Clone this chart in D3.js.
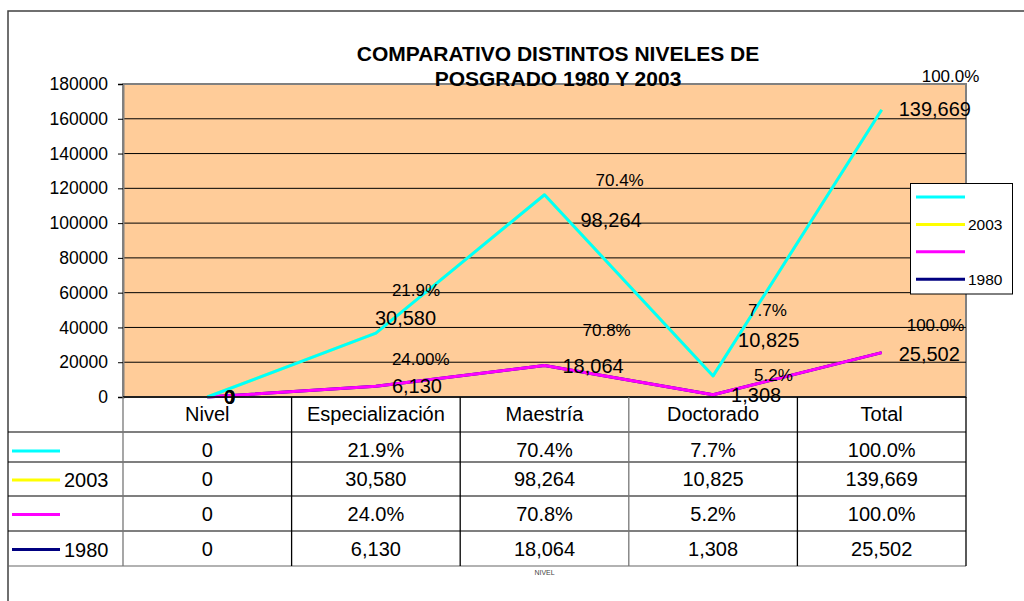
<!DOCTYPE html>
<html lang="es">
<head>
<meta charset="UTF-8">
<title>Comparativo posgrado 1980 y 2003</title>
<style>
  body { margin: 0; background: #fff; }
  text { font-family: Arial, "Liberation Sans", sans-serif; fill: #000; }
</style>
</head>
<body>
<svg id="chart" width="1024" height="601"></svg>
<script src="https://d3js.org/d3.v7.min.js"></script>
<script>

var niveles = ["Nivel", "Especialización", "Maestría", "Doctorado", "Total"];
var pct2003 = [0, 21.9, 70.4, 7.7, 100.0];
var alumnos2003 = [0, 30580, 98264, 10825, 139669];
var pct1980 = [0, 24.0, 70.8, 5.2, 100.0];
var alumnos1980 = [0, 6130, 18064, 1308, 25502];
var yTicks = [0, 20000, 40000, 60000, 80000, 100000, 120000, 140000, 160000, 180000];
var titulo = ["COMPARATIVO DISTINTOS NIVELES DE", "POSGRADO 1980 Y 2003"];

// the chart label of 1980 / Especialización was written "24.00%"
var etiquetasPct1980 = ["0", "24.00%", "70.8%", "5.2%", "100.0%"];

var fmtNum = function (v) { return v === 0 ? "0" : d3.format(",")(v); };
var fmtPct = function (v) { return v === 0 ? "0" : d3.format(".1f")(v) + "%"; };

// series, bottom of the stack first (the lines are stacked)
var series = [
  { key: "a1980", name: "1980", color: "#000080", values: alumnos1980, fmt: fmtNum, size: 20,
    nudge: [[17, 0], [16, 0], [18, 0], [18, 0], [17, 1]] },
  { key: "p1980", name: "", color: "#FF00FF", values: pct1980.map(function (v) { return v / 100; }), fmt: fmtPct, size: 17,
    texts: etiquetasPct1980, raw: pct1980,
    nudge: [[17, 0], [16, -27], [38, -35], [41, -19], [25, -27]] },
  { key: "a2003", name: "2003", color: "#FFFF00", values: alumnos2003, fmt: fmtNum, size: 20,
    nudge: [[17, 0], [-1, -15], [36, 25], [25, -36], [17, -1]] },
  { key: "p2003", name: "", color: "#00FFFF", values: pct2003.map(function (v) { return v / 100; }), fmt: fmtPct, size: 17,
    raw: pct2003,
    nudge: [[17, 0], [16, -43], [51, -14], [35, -65], [40, -33]] }
];

// table / legend order (top to bottom)
var orden = ["p2003", "a2003", "p1980", "a1980"];

var svg = d3.select("#chart");
var plot = { left: 123, right: 966, top: 84, bottom: 397 };
var rowEdges = [397, 432, 462, 496, 531, 566];

var x = d3.scaleBand().domain(niveles).range([plot.left, plot.right]);
var y = d3.scaleLinear().domain([0, 180000]).range([plot.bottom, plot.top]);
var cx = function (d) { return x(d) + x.bandwidth() / 2; };

var filas = niveles.map(function (n, i) {
  var r = { nivel: n };
  series.forEach(function (s) { r[s.key] = s.values[i]; });
  return r;
});
var stacked = d3.stack().keys(series.map(function (s) { return s.key; }))(filas);

// outer chart border
svg.append("rect").attr("x", 8).attr("y", 11).attr("width", 1040).attr("height", 620)
  .attr("fill", "#fff").attr("stroke", "#404040").attr("stroke-width", 1.5);

// plot area
svg.append("rect").attr("x", plot.left).attr("y", plot.top)
  .attr("width", plot.right - plot.left).attr("height", plot.bottom - plot.top)
  .attr("fill", "#FFCC99").attr("stroke", "#808080").attr("stroke-width", 2);

svg.append("g").selectAll("line").data(yTicks.slice(1, -1)).join("line")
  .attr("x1", plot.left).attr("x2", plot.right)
  .attr("y1", function (d) { return y(d); }).attr("y2", function (d) { return y(d); })
  .attr("stroke", "#000").attr("stroke-width", 1);

var yAxis = svg.append("g").attr("transform", "translate(" + plot.left + ",0)")
  .call(d3.axisLeft(y).tickValues(yTicks).tickSize(5).tickPadding(10).tickFormat(d3.format("d")));
yAxis.select(".domain").attr("stroke", "#808080").attr("stroke-width", 2);
yAxis.selectAll(".tick line").attr("stroke", "#000");
yAxis.selectAll("text").style("font-size", "17.5px").attr("fill", "#000");

// lines
var line = d3.line().x(function (d) { return cx(d.data.nivel); }).y(function (d) { return y(d[1]); });
var drawOrder = ["a1980", "a2003", "p1980", "p2003"];
drawOrder.forEach(function (k) {
  var i = series.findIndex(function (s) { return s.key === k; });
  svg.append("path").datum(stacked[i]).attr("d", line)
    .attr("fill", "none").attr("stroke", series[i].color).attr("stroke-width", 3)
    .attr("stroke-linejoin", "round");
});

// x axis line
svg.append("line").attr("x1", plot.left).attr("x2", plot.right)
  .attr("y1", plot.bottom).attr("y2", plot.bottom).attr("stroke", "#000").attr("stroke-width", 1.5);

// data labels
series.forEach(function (s, si) {
  svg.append("g").selectAll("text").data(stacked[si]).join("text")
    .attr("x", function (d, i) { return cx(d.data.nivel) + s.nudge[i][0]; })
    .attr("y", function (d, i) { return y(d[1]) + s.nudge[i][1]; })
    .attr("dominant-baseline", "central")
    .style("font-size", s.size + "px")
    .text(function (d, i) { return s.texts ? s.texts[i] : s.fmt(s.raw ? s.raw[i] : s.values[i]); });
});

// title
svg.append("g").selectAll("text").data(titulo).join("text")
  .attr("x", 558).attr("y", function (d, i) { return 61 + i * 25; })
  .attr("text-anchor", "middle").style("font-size", "21px").style("font-weight", "bold")
  .text(function (d) { return d; });

// legend
var leg = svg.append("g");
leg.append("rect").attr("x", 910.5).attr("y", 183.5).attr("width", 102).attr("height", 110.5)
  .attr("fill", "#fff").attr("stroke", "#000").attr("stroke-width", 1);
orden.forEach(function (k, i) {
  var s = series.find(function (d) { return d.key === k; });
  var ly = 197 + i * 27.4;
  leg.append("line").attr("x1", 916).attr("x2", 965).attr("y1", ly).attr("y2", ly)
    .attr("stroke", s.color).attr("stroke-width", 3);
  leg.append("text").attr("x", 968).attr("y", ly).attr("dominant-baseline", "central")
    .style("font-size", "15.5px").text(s.name);
});

// data table
var tabla = svg.append("g");
niveles.forEach(function (n) {
  tabla.append("text").attr("x", cx(n)).attr("y", 414).attr("text-anchor", "middle")
    .attr("dominant-baseline", "central").style("font-size", "20px").text(n);
});
orden.forEach(function (k, r) {
  var s = series.find(function (d) { return d.key === k; });
  var ry = (rowEdges[r + 1] + rowEdges[r + 2]) / 2 + (r === 0 ? 3 : 0);
  tabla.append("line").attr("x1", 12).attr("x2", 60).attr("y1", ry + 1).attr("y2", ry + 1)
    .attr("stroke", s.color).attr("stroke-width", 3);
  tabla.append("text").attr("x", 64).attr("y", ry + 1).attr("dominant-baseline", "central")
    .style("font-size", "20px").text(s.name);
  niveles.forEach(function (n, i) {
    var v = s.raw ? s.raw[i] : s.values[i];
    tabla.append("text").attr("x", cx(n)).attr("y", ry).attr("text-anchor", "middle")
      .attr("dominant-baseline", "central").style("font-size", "20px").text(s.fmt(v));
  });
});
rowEdges.slice(1).forEach(function (ey, i) {
  tabla.append("line").attr("x1", 8).attr("x2", plot.right).attr("y1", ey).attr("y2", ey)
    .attr("stroke", i === rowEdges.length - 2 ? "#666" : "#000").attr("stroke-width", 1.2);
});
var bordes = [plot.left].concat(niveles.map(function (n) { return x(n) + x.bandwidth(); }));
bordes.forEach(function (bx, i) {
  tabla.append("line").attr("x1", bx).attr("x2", bx).attr("y1", plot.bottom).attr("y2", rowEdges[5])
    .attr("stroke", (i === 0 || i === 3) ? "#777" : "#000").attr("stroke-width", 1.3);
});

// category axis title
svg.append("text").attr("x", (plot.left + plot.right) / 2).attr("y", 572)
  .attr("text-anchor", "middle").attr("dominant-baseline", "central")
  .style("font-size", "7px").style("fill", "#444").text("NIVEL");

</script>
</body>
</html>
